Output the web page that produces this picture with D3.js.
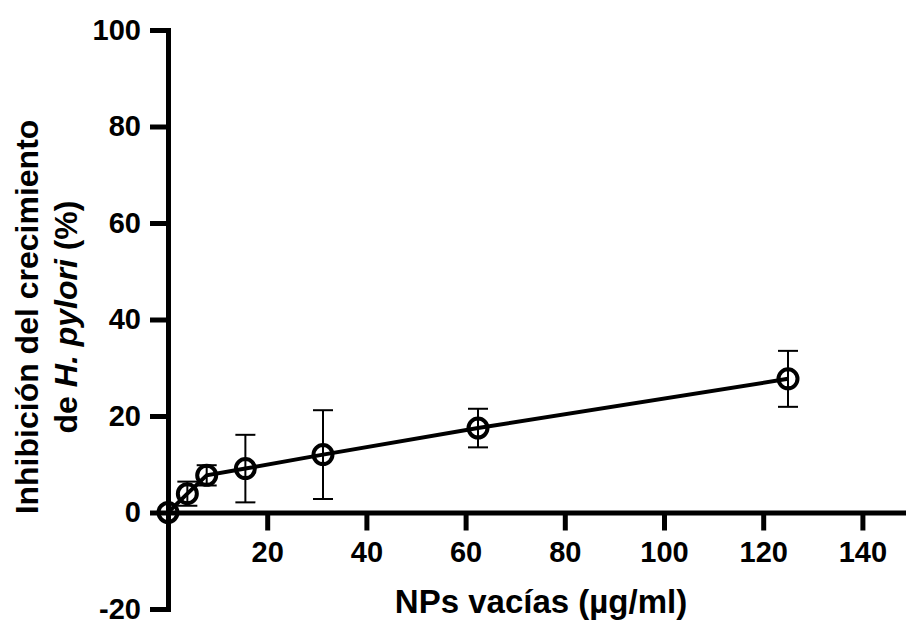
<!DOCTYPE html>
<html>
<head>
<meta charset="utf-8">
<script src="https://cdn.jsdelivr.net/npm/d3@7"></script>
<style>
  html, body { margin: 0; padding: 0; background: #fff; }
  svg { display: block; font-family: "Liberation Sans", Arial, sans-serif; }
</style>
</head>
<body>
<div id="chart"></div>
<script>
// values
const concentrations = [0, 3.9, 7.8, 15.6, 31.25, 62.5, 125];
const inhibition = [0, 3.9, 7.7, 9.1, 12.0, 17.5, 27.7];
const errors = [0, 2.5, 2.1, 7.0, 9.2, 4.0, 5.8];

const xTicks = [20, 40, 60, 80, 100, 120, 140];
const yTicks = [-20, 0, 20, 40, 60, 80, 100];

const xTitle = "NPs vacías (µg/ml)";

const width = 906;
const height = 624;

const data = concentrations.map((c, i) => ({
  x: c,
  y: inhibition[i],
  err: errors[i]
}));

const svg = d3.select("#chart").append("svg")
  .attr("width", width)
  .attr("height", height);

const x = d3.scaleLinear().domain([0, 150]).range([168, 912]);
const y = d3.scaleLinear().domain([-20, 100]).range([609, 30]);

// plain hyphen for negatives, like the original
const fmt = d => String(d);

// axes
const yAxis = svg.append("g")
  .attr("transform", `translate(${x(0)},0)`)
  .call(d3.axisLeft(y).tickValues(yTicks).tickFormat(fmt)
    .tickSize(18).tickSizeOuter(0).tickPadding(9));

const xAxis = svg.append("g")
  .attr("transform", `translate(0,${y(0)})`)
  .call(d3.axisBottom(x).tickValues(xTicks).tickFormat(fmt)
    .tickSize(18).tickSizeOuter(0).tickPadding(11));

[xAxis, yAxis].forEach(ax => {
  ax.select(".domain")
    .attr("stroke", "#000")
    .attr("stroke-width", 5)
    .attr("stroke-linecap", "square");
  ax.selectAll(".tick line")
    .attr("stroke", "#000")
    .attr("stroke-width", 5);
  ax.selectAll(".tick text")
    .attr("fill", "#000")
    .attr("font-size", 29)
    .attr("font-weight", "bold")
    .attr("font-family", "Liberation Sans, Arial, sans-serif");
});

// axis titles
svg.append("text")
  .attr("x", 541)
  .attr("y", 613)
  .attr("text-anchor", "middle")
  .attr("font-size", 33)
  .attr("font-weight", "bold")
  .text(xTitle);

const yTitle = svg.append("g")
  .attr("transform", "rotate(-90)")
  .attr("font-size", 32)
  .attr("font-weight", "bold")
  .attr("text-anchor", "middle");

yTitle.append("text")
  .attr("x", -317)
  .attr("y", 38)
  .text("Inhibición del crecimiento");

const line2 = yTitle.append("text")
  .attr("x", -317)
  .attr("y", 77);
line2.append("tspan").text("de ");
line2.append("tspan").attr("font-style", "italic").text("H. pylori");
line2.append("tspan").text(" (%)");

// connecting line
svg.append("path")
  .datum(data)
  .attr("fill", "none")
  .attr("stroke", "#000")
  .attr("stroke-width", 4)
  .attr("d", d3.line().x(d => x(d.x)).y(d => y(d.y)));

// error bars
const bars = svg.append("g")
  .attr("stroke", "#000")
  .attr("stroke-width", 2)
  .selectAll("g")
  .data(data.filter(d => d.err > 0))
  .join("g");

bars.append("line")
  .attr("x1", d => x(d.x)).attr("x2", d => x(d.x))
  .attr("y1", d => y(d.y + d.err)).attr("y2", d => y(d.y - d.err));

bars.append("line")
  .attr("x1", d => x(d.x) - 10).attr("x2", d => x(d.x) + 10)
  .attr("y1", d => y(d.y + d.err)).attr("y2", d => y(d.y + d.err));

bars.append("line")
  .attr("x1", d => x(d.x) - 10).attr("x2", d => x(d.x) + 10)
  .attr("y1", d => y(d.y - d.err)).attr("y2", d => y(d.y - d.err));

// open circles
svg.append("g")
  .selectAll("circle")
  .data(data)
  .join("circle")
  .attr("cx", d => x(d.x))
  .attr("cy", d => y(d.y))
  .attr("r", 9.5)
  .attr("fill", "none")
  .attr("stroke", "#000")
  .attr("stroke-width", 4);
</script>
</body>
</html>
